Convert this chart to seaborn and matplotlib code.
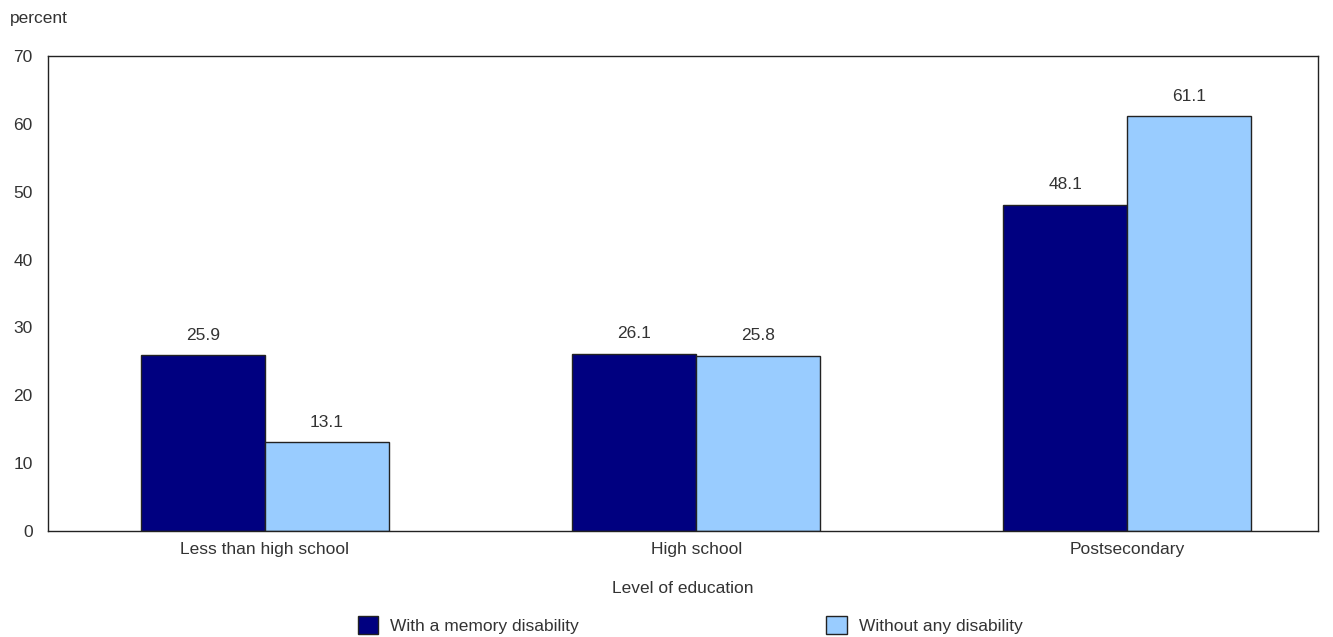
import matplotlib
matplotlib.use("Agg")
import matplotlib.pyplot as plt
import seaborn as sns
import pandas as pd
from matplotlib.patches import Patch

categories = ["Less than high school", "High school", "Postsecondary"]
series_names = ["With a memory disability", "Without any disability"]
with_memory = [25.9, 26.1, 48.1]
without_any = [13.1, 25.8, 61.1]
y_ticks = [0, 10, 20, 30, 40, 50, 60, 70]

colors = ["#000080", "#99CCFF"]
text_color = "#333333"
fs = 12.5

df = pd.DataFrame({
    "education": categories * 2,
    "group": [series_names[0]] * 3 + [series_names[1]] * 3,
    "value": with_memory + without_any,
})

sns.set_theme(style="white")
plt.rcParams["font.family"] = ["Liberation Sans", "DejaVu Sans"]

fig = plt.figure(figsize=(13.33, 6.37), dpi=100)
ax = fig.add_axes([48 / 1333, 1 - 531 / 637, 1270 / 1333, 475 / 637])

sns.barplot(data=df, x="education", y="value", hue="group", order=categories,
            hue_order=series_names, palette=colors, width=0.575, gap=0,
            edgecolor="#222222", linewidth=1, saturation=1, ax=ax, legend=False)

for container in ax.containers:
    ax.bar_label(container, fmt="%.1f", padding=9, fontsize=fs, color=text_color)

ax.set_ylim(0, 70)
ax.set_yticks(y_ticks)
ax.set_xlim(-0.503, 2.442)
ax.tick_params(axis="both", length=0, labelsize=fs, colors=text_color)
ax.tick_params(axis="x", pad=8)
ax.tick_params(axis="y", pad=11)
for side in ["top", "right", "left", "bottom"]:
    ax.spines[side].set_visible(True)
    ax.spines[side].set_color("#222222")
    ax.spines[side].set_linewidth(1)

ax.set_xlabel("Level of education", fontsize=fs, color=text_color, labelpad=17)
ax.set_ylabel("")
fig.text(10 / 1333, 1 - 19 / 637, "percent", fontsize=fs, color=text_color,
         va="center", ha="left")

handles = [Patch(facecolor=c, edgecolor="#222222", linewidth=1) for c in colors]
fig.legend(handles, series_names, loc="center", bbox_to_anchor=(690 / 1333, 1 - 625 / 637),
           ncol=2, frameon=False, fontsize=fs, columnspacing=14.2,
           handlelength=1.2, handleheight=1.2, handletextpad=0.7,
           labelcolor=text_color, borderpad=0)

fig.savefig("out.png", dpi=100)
